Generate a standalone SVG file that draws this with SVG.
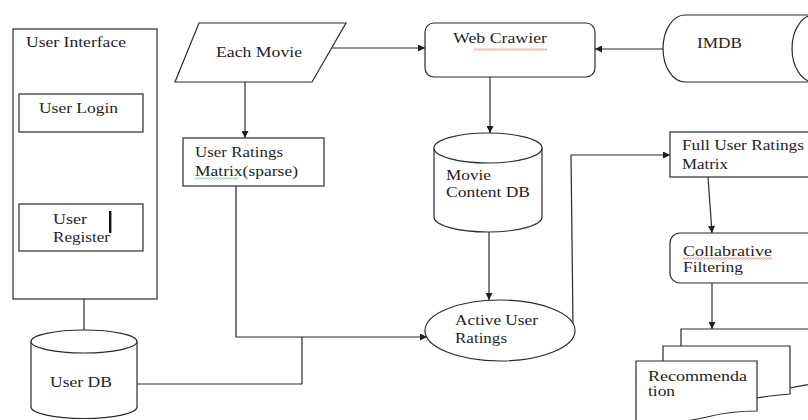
<svg xmlns="http://www.w3.org/2000/svg" width="808" height="420" viewBox="0 0 808 420">
  <style>
    .shape { fill: #ffffff; stroke: #2a2a2a; stroke-width: 1.2; }
    .line { fill: none; stroke: #2a2a2a; stroke-width: 1.2; }
    .arrow { fill: none; stroke: #2a2a2a; stroke-width: 1.2; marker-end: url(#head); }
    .lbl { font-family: 'Liberation Serif', 'Times New Roman', 'DejaVu Serif', serif; font-size: 14px; fill: #1e1e1e; }
  </style>
  <defs>
    <marker id="head" viewBox="0 0 10 10" refX="10" refY="5" markerWidth="8" markerHeight="7" markerUnits="userSpaceOnUse" orient="auto">
      <path d="M0,0 L10,5 L0,10 Z" fill="#1e1e1e"/>
    </marker>
    <!-- spell-check squiggles -->
    <pattern id="wavyRed" width="3" height="2" patternUnits="userSpaceOnUse">
      <path d="M0,0.4 L1.5,1.6 L3,0.4" stroke="#d83030" stroke-width="0.7" fill="none"/>
    </pattern>
    <pattern id="wavyGreen" width="3" height="2" patternUnits="userSpaceOnUse">
      <path d="M0,0.4 L1.5,1.6 L3,0.4" stroke="#3aa04a" stroke-width="0.7" fill="none"/>
    </pattern>
  </defs>

  <rect width="808" height="420" fill="#ffffff"/>

  <!-- connectors -->
  <g id="connectors">
    <path class="arrow" d="M332,48 L425,48"/>
    <path class="arrow" d="M245,82 L245,138"/>
    <path class="arrow" d="M663,49 L595,49"/>
    <path class="arrow" d="M490,77 L490,133"/>
    <path class="arrow" d="M489,232 L489,300"/>
    <path class="arrow" d="M236,186 L236,337 L427,337"/>
    <path class="line" d="M137,384 L302,384 L302,337"/>
    <path class="line" d="M84,299 L84,330"/>
    <path class="arrow" d="M573,325 L571,155 L670,155"/>
    <path class="arrow" d="M708,177 L712,233"/>
    <path class="arrow" d="M712,283 L712,329"/>
  </g>

  <g class="lbl" font-family="'Liberation Serif', 'Times New Roman', 'DejaVu Serif', serif" font-size="14">
    <!-- user interface panel -->
    <g id="user-interface">
      <rect class="shape" x="13" y="29" width="144" height="270"/>
      <text x="26" y="47" textLength="100" lengthAdjust="spacingAndGlyphs">User Interface</text>
    </g>
    <g id="user-login">
      <rect class="shape" x="19" y="94" width="124" height="38"/>
      <text x="39" y="113" textLength="79" lengthAdjust="spacingAndGlyphs">User Login</text>
    </g>
    <g id="user-register">
      <rect class="shape" x="19" y="204" width="124" height="47"/>
      <text x="53" y="224" textLength="34" lengthAdjust="spacingAndGlyphs">User</text>
      <text x="53" y="242" textLength="57" lengthAdjust="spacingAndGlyphs">Register</text>
      <rect x="109" y="211" width="2.4" height="22" fill="#111111"/>
    </g>

    <!-- user database -->
    <g id="user-db">
      <path class="shape" d="M31,341.5 L31,407 A53,11.5 0 0 0 137,407 L137,341.5"/>
      <ellipse class="shape" cx="84" cy="341.5" rx="53" ry="11.5"/>
      <text x="50" y="387" textLength="62" lengthAdjust="spacingAndGlyphs">User DB</text>
    </g>

    <!-- input movie -->
    <g id="each-movie">
      <polygon class="shape" points="199,23 346,23 312,82 175,82"/>
      <text x="216" y="57" textLength="86" lengthAdjust="spacingAndGlyphs">Each Movie</text>
    </g>

    <g id="user-ratings-matrix">
      <rect class="shape" x="183" y="138" width="141" height="48"/>
      <text x="195" y="157" textLength="88" lengthAdjust="spacingAndGlyphs">User Ratings</text>
      <text x="195" y="176" textLength="103" lengthAdjust="spacingAndGlyphs">Matrix(sparse)</text>
      <rect x="195" y="177.5" width="44" height="2" fill="url(#wavyGreen)"/>
    </g>

    <g id="web-crawler">
      <rect class="shape" x="425" y="23" width="170" height="54" rx="9"/>
      <text x="453" y="43" textLength="94" lengthAdjust="spacingAndGlyphs">Web Crawier</text>
      <rect x="474" y="48.5" width="73" height="2" fill="url(#wavyRed)"/>
    </g>

    <!-- IMDB source: horizontal storage drum -->
    <g id="imdb">
      <path class="shape" d="M685,15 H814 A22,33.5 0 0 1 814,82 H685 A22,33.5 0 0 1 685,15 Z"/>
      <path class="line" d="M814,15 A22,33.5 0 0 0 814,82"/>
      <text x="697" y="48" textLength="45" lengthAdjust="spacingAndGlyphs">IMDB</text>
    </g>

    <g id="movie-content-db">
      <path class="shape" d="M434,148 L434,217 A54,15 0 0 0 542,217 L542,148"/>
      <ellipse class="shape" cx="488" cy="148" rx="54" ry="15"/>
      <text x="446" y="180" textLength="45" lengthAdjust="spacingAndGlyphs">Movie</text>
      <text x="446" y="197" textLength="84" lengthAdjust="spacingAndGlyphs">Content DB</text>
    </g>

    <g id="active-user-ratings">
      <ellipse class="shape" cx="500" cy="330.5" rx="75" ry="30.5"/>
      <text x="455" y="325" textLength="83" lengthAdjust="spacingAndGlyphs">Active User</text>
      <text x="455" y="343" textLength="52" lengthAdjust="spacingAndGlyphs">Ratings</text>
    </g>

    <g id="full-user-ratings-matrix">
      <rect class="shape" x="670" y="132" width="150" height="45"/>
      <text x="682" y="150" textLength="122" lengthAdjust="spacingAndGlyphs">Full User Ratings</text>
      <text x="682" y="169" textLength="46" lengthAdjust="spacingAndGlyphs">Matrix</text>
    </g>

    <g id="collaborative-filtering">
      <rect class="shape" x="670" y="233" width="160" height="50" rx="10"/>
      <text x="683" y="256" textLength="89" lengthAdjust="spacingAndGlyphs">Collabrative</text>
      <rect x="683" y="257.5" width="89" height="2" fill="url(#wavyRed)"/>
      <text x="683" y="272" textLength="60" lengthAdjust="spacingAndGlyphs">Filtering</text>
    </g>

    <!-- stacked output documents -->
    <g id="recommendation">
      <path class="shape" d="M681,329 H830 V382 C815,383 800,386 790,388 C745,394 705,400 681,399 Z"/>
      <path class="shape" d="M663,346 H790 V394 C778,395 768,396 757,398 C720,402 690,410 663,412 Z"/>
      <path class="shape" d="M636,361 H757 V411 C742,411 722,413 707,417 C688,421 660,426 636,427 Z"/>
      <text x="648" y="381" textLength="99" lengthAdjust="spacingAndGlyphs">Recommenda</text>
      <text x="648" y="396" textLength="27" lengthAdjust="spacingAndGlyphs">tion</text>
    </g>
  </g>
</svg>
